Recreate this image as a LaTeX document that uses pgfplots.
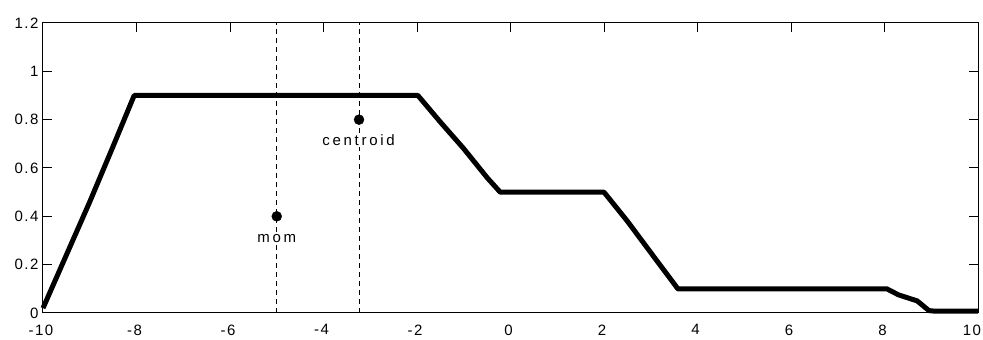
\documentclass[border=0pt]{standalone}
\usepackage{fontspec}
\setmainfont{Liberation Sans}
\usepackage{pgfplots}
\pgfplotsset{compat=1.18}
\newfontfamily\lab[LetterSpace=18]{Liberation Sans}
\newfontfamily\tlab[LetterSpace=10]{Liberation Sans}
\begin{document}
\begin{tikzpicture}
\begin{axis}[
  at={(0,0)}, anchor=south west,
  scale only axis,
  width=935pt, height=290pt,
  xmin=-10, xmax=10, ymin=0, ymax=1.2,
  xtick={-10,-8,...,10},
  xticklabels={-10,-8,-6,-4,-2,0,2,4,6,8,{10\hspace*{8pt}}},
  ytick={0,0.2,0.4,0.6,0.8,1,1.2},
  xtick pos=top, xticklabel pos=bottom,
  ytick pos=both, yticklabel pos=left,
  tick align=inside,
  major tick length=9pt,
  axis line style={line width=1pt},
  every tick/.style={black, line width=1pt},
  /pgf/number format/assume math mode=true,
  tick label style={font=\fontsize{15}{17}\selectfont\tlab},
  xticklabel style={yshift=-8pt, xshift=-2pt},
  yticklabel style={xshift=-1pt},
  clip=false,
]
\addplot[black, line width=5pt, line join=round] coordinates {
 (-10,0.02) (-9.5,0.24) (-9,0.46) (-8.5,0.69) (-8.05,0.9) (-1.98,0.9)
 (-1.5,0.79) (-1,0.68) (-0.5,0.56) (-0.22,0.5) (2.0,0.5)
 (2.5,0.38) (3,0.25) (3.58,0.1) (8.05,0.1)
 (8.3,0.075) (8.7,0.05) (8.95,0.01) (9.05,0.008) (10,0.008)
};
\addplot[black, line width=1pt, dash pattern=on 5pt off 4pt] coordinates {(-5,0) (-5,1.2)};
\addplot[black, line width=1pt, dash pattern=on 5pt off 4pt] coordinates {(-3.22,0) (-3.22,1.2)};
\addplot[black, only marks, mark=*, mark size=5pt] coordinates {(-5,0.4) (-3.24,0.8)};
\node[font=\fontsize{15}{17}\selectfont\lab, fill=white, inner sep=1pt] at (axis cs:-5,0.31) {mom};
\node[font=\fontsize{15}{17}\selectfont\lab, fill=white, inner sep=1pt] at (axis cs:-3.25,0.715) {centroid};
\end{axis}
\pgfresetboundingbox
\path (-43pt,-27pt) rectangle (940pt,313pt);
\end{tikzpicture}
\end{document}
